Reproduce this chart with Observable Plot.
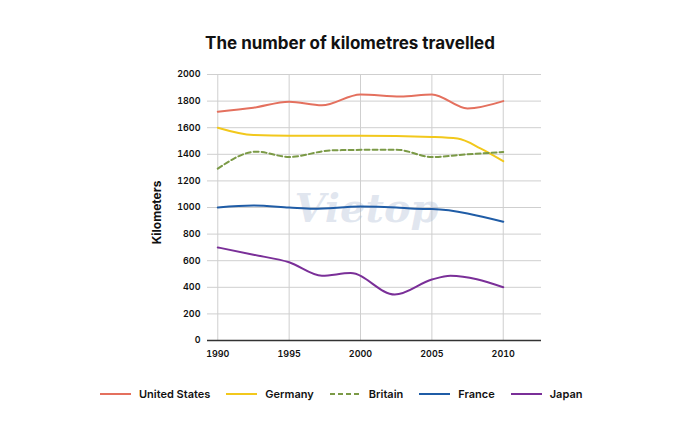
<!DOCTYPE html>
<html><head><meta charset="utf-8">
<script src="https://cdn.jsdelivr.net/npm/d3@7"></script>
<script src="https://cdn.jsdelivr.net/npm/@observablehq/plot@0.6"></script>
<style>
body{margin:0;background:#fff;font-family:Inter,"Noto Sans",sans-serif;width:700px;height:435px;overflow:hidden;color:#111}
#title{height:60px;box-sizing:border-box;padding-top:32px;text-align:center;font-weight:700;font-size:17px;line-height:22px}
#chart svg{display:block}
#legend{box-sizing:border-box;padding-top:0;padding-left:100px;display:flex;align-items:center;height:48px;font-size:11px;font-weight:600;line-height:20px}
.item{display:flex;align-items:center;margin-right:16px}
.item svg{margin-right:8px;display:block}
</style></head>
<body>
<div id="title">The number of kilometres travelled</div>
<div id="chart"></div>
<div id="legend"></div>
<script>
const seriesNames = ["United States", "Germany", "Britain", "France", "Japan"];
const seriesColors = ["#e4705e", "#f2c81c", "#7b9a46", "#1f5ca6", "#7a2f98"];
const seriesDash = [null, null, "5,3", null, null];

const usYears = [1990, 1992.5, 1995, 1997.3, 2000, 2002.8, 2005, 2007.5, 2010];
const usValues = [1720, 1750, 1795, 1768, 1850, 1835, 1850, 1745, 1800];

const germanyYears = [1990, 1992.5, 1995, 2000, 2005, 2006.8, 2008.4, 2010];
const germanyValues = [1600, 1545, 1540, 1540, 1530, 1518, 1445, 1348];

const britainYears = [1990, 1992.7, 1995, 1998, 2002.5, 2005, 2007.5, 2010];
const britainValues = [1292, 1420, 1380, 1430, 1435, 1380, 1400, 1417];

const franceYears = [1990, 1992.5, 1995, 1996.7, 2000, 2002.5, 2003.8, 2005, 2010];
const franceValues = [1000, 1015, 1000, 990, 1007, 1000, 990, 988, 893];

const japanYears = [1990, 1992.5, 1995, 1997.3, 1999.3, 2002.4, 2005, 2006.3, 2010];
const japanValues = [700, 645, 588, 487, 507, 345, 458, 487, 400];

const xTicks = [1990, 1995, 2000, 2005, 2010];
const yTicks = [0, 200, 400, 600, 800, 1000, 1200, 1400, 1600, 1800, 2000];
const xDomain = [1989.28, 2012.68];
const yDomain = [0, 2000];

const allYears = [usYears, germanyYears, britainYears, franceYears, japanYears];
const allValues = [usValues, germanyValues, britainValues, franceValues, japanValues];

const lineMarks = seriesNames.map((name, s) => {
  const rows = allYears[s].map((y, i) => ({year: y, value: allValues[s][i]}));
  return Plot.line(rows, {x: "year", y: "value", curve: "monotone-x", stroke: seriesColors[s], strokeWidth: 2, strokeDasharray: seriesDash[s] || undefined});
});

const chart = Plot.plot({
  width: 700, height: 310,
  marginTop: 14, marginBottom: 30, marginLeft: 207, marginRight: 159,
  style: {fontFamily: "Inter, sans-serif", fontSize: "9px", fontWeight: 600, color: "#111", background: "#fff"},
  x: {domain: xDomain},
  y: {domain: yDomain},
  marks: [
    Plot.gridY(yTicks, {stroke: "#cfcfcf", strokeOpacity: 1}),
    Plot.gridX(xTicks, {stroke: "#cfcfcf", strokeOpacity: 1}),
    Plot.text(["Vietop"], {frameAnchor: "middle", dx: -8, dy: 2, fontSize: 40, fontStyle: "italic", fontWeight: 700, fontFamily: "DejaVu Serif", fill: "#a9b9d2", fillOpacity: 0.35}),
    ...lineMarks,
    Plot.ruleY([0], {stroke: "#333", strokeWidth: 1.5}),
    Plot.axisX(xTicks, {tickSize: 0, tickPadding: 10, tickFormat: d => String(d), label: null}),
    Plot.axisY(yTicks, {tickSize: 0, tickPadding: 7, tickFormat: d => String(d), label: null}),
    Plot.text(["Kilometers"], {frameAnchor: "left", textAnchor: "middle", dx: -50, dy: 5, rotate: -90, fontSize: 12, fontWeight: 700})
  ]
});
document.getElementById("chart").appendChild(chart);

const legend = document.getElementById("legend");
seriesNames.forEach((name, s) => {
  const item = document.createElement("div");
  item.className = "item";
  item.innerHTML = `<svg width="31" height="6"><line x1="0" x2="31" y1="3" y2="3" stroke="${seriesColors[s]}" stroke-width="2" ${seriesDash[s] ? `stroke-dasharray="${seriesDash[s]}"` : ""}/></svg><span>${name}</span>`;
  legend.appendChild(item);
});
</script>
</body></html>
